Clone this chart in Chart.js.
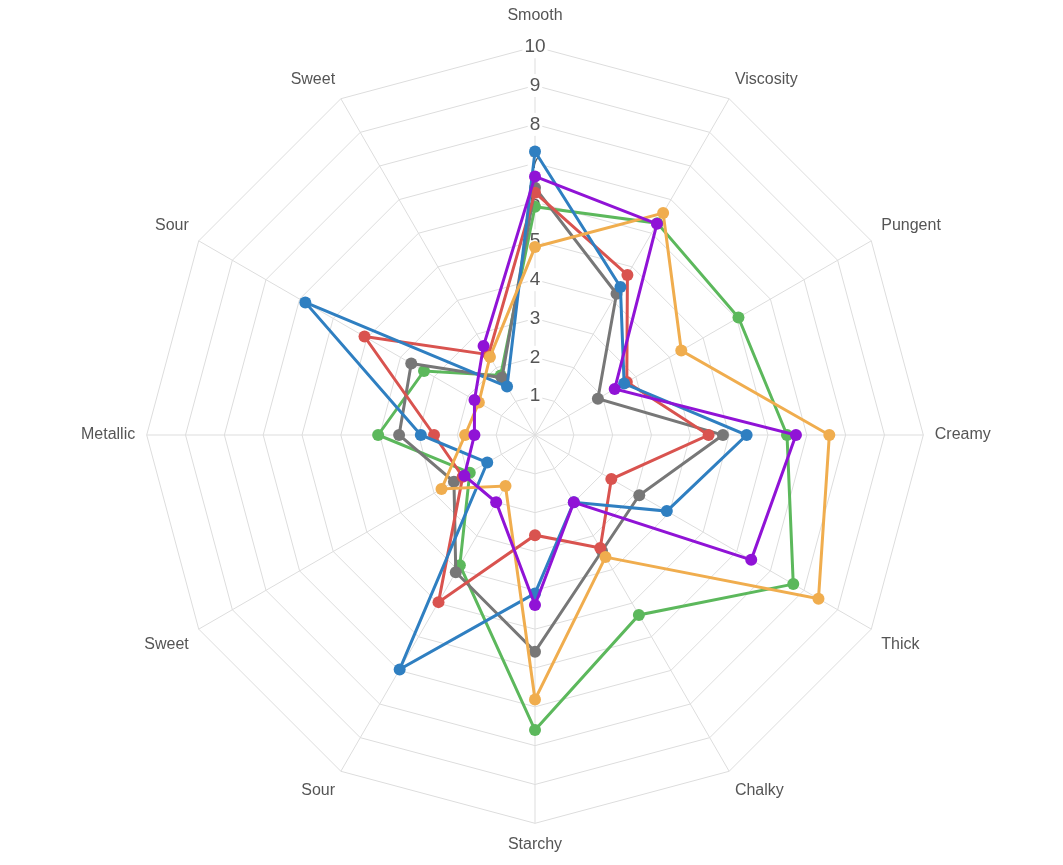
<!DOCTYPE html>
<html>
<head>
<meta charset="utf-8">
<script src="https://cdn.jsdelivr.net/npm/chart.js@4/dist/chart.umd.min.js"></script>
<style>
  html, body { margin: 0; padding: 0; background: #fff; }
  #wrap { width: 1063px; height: 865px; }
</style>
</head>
<body>
<div id="wrap"><canvas id="radar"></canvas></div>
<script>
// ------------------------- DATA -------------------------------------
var axisLabels = ["Smooth", "Viscosity", "Pungent", "Creamy", "Thick", "Chalky",
                  "Starchy", "Sour", "Sweet", "Metallic", "Sour", "Sweet"];

var purpleValues = [6.66, 6.28, 2.37, 6.72, 6.43, 2.0, 4.38, 2.0, 2.1, 1.56, 1.8, 2.65];
var orangeValues = [4.84, 6.6, 4.35, 7.58, 8.43, 3.63, 6.81, 1.52, 2.78, 1.8, 1.67, 2.32];
var blueValues   = [7.3, 4.4, 2.65, 5.45, 3.92, 2.0, 4.08, 6.97, 1.42, 2.94, 6.83, 1.44];
var redValues    = [6.24, 4.76, 2.73, 4.47, 2.27, 3.36, 2.58, 4.97, 2.15, 2.6, 5.07, 2.39];
var grayValues   = [6.37, 4.2, 1.87, 4.84, 3.1, 3.45, 5.58, 4.08, 2.41, 3.5, 3.68, 1.7];
var greenValues  = [5.88, 6.3, 6.05, 6.49, 7.68, 5.35, 7.6, 3.87, 1.94, 4.04, 3.3, 1.77];

var scaleMin = 0;
var scaleMax = 10;

// ------------------------- CHART -------------------------------------

// builds one radar line dataset
function makeSet(data, color) {
  return {
    data: data,
    fill: false,
    borderColor: color,
    backgroundColor: color,
    borderWidth: 3,
    pointRadius: 6,
    pointBorderWidth: 0,
    pointBackgroundColor: color,
    pointHoverRadius: 6
  };
}

var ctx = document.getElementById("radar");
var chart = new Chart(ctx, {
  type: "radar",
  data: {
    labels: axisLabels,
    datasets: [
      makeSet(purpleValues, "#9013d6"),
      makeSet(orangeValues, "#f0ad4e"),
      makeSet(blueValues, "#2f7fc1"),
      makeSet(redValues, "#d9534f"),
      makeSet(grayValues, "#777777"),
      makeSet(greenValues, "#5cb85c")
    ]
  },
  options: {
    responsive: true,
    maintainAspectRatio: false,
    animation: false,
    layout: { padding: { top: 2, bottom: 5, left: 8, right: 0 } },
    plugins: { legend: { display: false }, tooltip: { enabled: false } },
    elements: { line: { tension: 0 } },
    scales: {
      r: {
        min: scaleMin,
        max: scaleMax,
        ticks: {
          stepSize: 1,
          color: "#555",
          font: { family: "'Liberation Sans', Arial, sans-serif", size: 19 },
          backdropColor: "#fff",
          backdropPadding: 2,
          callback: function(v) { return v === 0 ? "" : v; }
        },
        grid: { color: "#dddddd", lineWidth: 1 },
        angleLines: { color: "#dddddd", lineWidth: 1 },
        pointLabels: {
          color: "#555",
          // top label sits further out than the rest
          padding: function(c) { return c.index === 0 ? 10 : 0; },
          font: { family: "'Liberation Sans', Arial, sans-serif", size: 16 }
        }
      }
    }
  }
});
</script>
</body>
</html>
